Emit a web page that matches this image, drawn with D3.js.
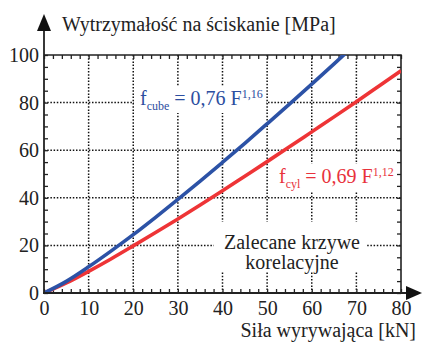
<!DOCTYPE html>
<html>
<head>
<meta charset="utf-8">
<script src="https://cdn.jsdelivr.net/npm/d3@7"></script>
<style>
	body { margin: 0; background: #fff; }
	svg { display: block; }
</style>
</head>
<body>
<svg id="chart" width="423" height="344"></svg>
<script>
// values
var forceKN = [0, 5, 10, 15, 20, 25, 30, 35, 40, 45, 50, 55, 60, 65, 70, 75, 80];
var cubeMPa = [0, 4.9, 11.0, 17.6, 24.5, 31.8, 39.3, 47.0, 54.9, 62.9, 71.1, 79.4, 87.8, 96.3, 104.9];
var cylMPa  = [0, 4.2, 9.1, 14.3, 19.8, 25.4, 31.1, 37.0, 43.0, 49.1, 55.2, 61.4, 67.7, 74.0, 80.4, 86.9, 93.4];
var xTicks = [0, 10, 20, 30, 40, 50, 60, 70, 80];
var yTicks = [0, 20, 40, 60, 80, 100];

(function () {
var svg = d3.select('#chart');
var pl = 44, pr = 401, pt = 55, pb = 293;
var serif = '"Liberation Serif", serif';

var x = d3.scaleLinear().domain([0, 80]).range([pl, pr]);
var y = d3.scaleLinear().domain([0, 100]).range([pb, pt]);

var ink = '#222';

// dotted grid
var grid = svg.append('g').attr('class', 'grid');
grid.selectAll('line.v').data(xTicks.slice(1, -1)).enter().append('line')
	.attr('x1', function (d) { return x(d); }).attr('x2', function (d) { return x(d); })
	.attr('y1', pt).attr('y2', pb);
grid.selectAll('line.h').data(yTicks.slice(1, -1)).enter().append('line')
	.attr('y1', function (d) { return y(d); }).attr('y2', function (d) { return y(d); })
	.attr('x1', pl).attr('x2', pr);
grid.selectAll('line').style('stroke', '#111').style('stroke-width', 1.5).style('stroke-dasharray', '1.5,1.7');

// white boxes behind the text labels
function box(x0, y0, w, h) {
	svg.append('rect').attr('x', x0).attr('y', y0).attr('width', w).attr('height', h).style('fill', '#fff');
}
box(134, 86, 132, 27);
box(274, 164, 124, 28);
box(214, 222, 152, 50);

// frame ticks (pointing inwards)
function ticks(axis, vals, size, tx) {
	svg.append('g').attr('transform', tx)
		.call(axis.tickValues(vals).tickSize(size).tickFormat(''))
		.call(function (g) { g.select('.domain').remove(); })
		.selectAll('line').style('stroke', ink).style('stroke-width', 1.3);
}
var minorX = d3.range(0, 81, 2), minorY = d3.range(0, 101, 5);
ticks(d3.axisTop(x), minorX, -4, 'translate(0,' + pt + ')');
ticks(d3.axisBottom(x), minorX, -4, 'translate(0,' + pb + ')');
ticks(d3.axisLeft(y), minorY, -4, 'translate(' + pl + ',0)');
ticks(d3.axisRight(y), minorY, -4, 'translate(' + pr + ',0)');

// frame
svg.append('path')
	.attr('d', 'M' + pl + ',' + pt + 'H' + pr + 'V' + pb)
	.style('fill', 'none').style('stroke', ink).style('stroke-width', 1.6);

// curves
svg.append('clipPath').attr('id', 'plotclip').append('rect')
	.attr('x', pl).attr('y', pt).attr('width', pr - pl).attr('height', pb - pt);

var line = d3.line()
	.x(function (d) { return x(d[0]); })
	.y(function (d) { return y(d[1]); })
	.curve(d3.curveMonotoneX);

var curves = svg.append('g').attr('clip-path', 'url(#plotclip)');
curves.append('path').datum(d3.zip(forceKN, cylMPa)).attr('d', line)
	.style('fill', 'none').style('stroke', '#ee3436').style('stroke-width', 3.6);
curves.append('path').datum(d3.zip(forceKN, cubeMPa)).attr('d', line)
	.style('fill', 'none').style('stroke', '#2c52a6').style('stroke-width', 3.6);

// main axes with arrows
svg.append('line').attr('x1', pl).attr('x2', pl).attr('y1', pb + 1).attr('y2', 28)
	.style('stroke', ink).style('stroke-width', 1.8);
svg.append('line').attr('x1', pl - 1).attr('x2', 410).attr('y1', pb).attr('y2', pb)
	.style('stroke', ink).style('stroke-width', 1.8);
svg.append('path').attr('d', 'M' + pl + ',14L' + (pl - 7) + ',31L' + (pl + 7) + ',31Z').style('fill', '#111');
svg.append('path').attr('d', 'M422,' + pb + 'L406,' + (pb - 7) + 'L406,' + (pb + 7) + 'Z').style('fill', '#111');

// tick labels
svg.append('g').attr('transform', 'translate(0,' + pb + ')')
	.call(d3.axisBottom(x).tickValues(xTicks).tickSize(0).tickPadding(8))
	.call(function (g) { g.select('.domain').remove(); })
	.attr('font-family', serif).attr('font-size', 20)
	.selectAll('text').style('font-size', '20px').style('fill', ink).style('font-family', serif);
svg.append('g').attr('transform', 'translate(' + pl + ',0)')
	.call(d3.axisLeft(y).tickValues(yTicks).tickSize(0).tickPadding(5))
	.call(function (g) { g.select('.domain').remove(); })
	.attr('font-family', serif).attr('font-size', 20)
	.selectAll('text').style('font-size', '20px').style('fill', ink).style('font-family', serif);

// axis titles
svg.append('text').attr('x', 62).attr('y', 31).style('font-family', serif).style('font-size', '20px').style('fill', ink)
	.text('Wytrzymałość na ściskanie [MPa]');
svg.append('text').attr('x', 416).attr('y', 337).attr('text-anchor', 'end').style('font-family', serif)
	.style('font-size', '20px').style('fill', ink)
	.text('Siła wyrywająca [kN]');

// formulas
function formula(x0, y0, color, sub, rest, sup) {
	var t = svg.append('text').attr('x', x0).attr('y', y0).style('font-family', serif)
		.style('font-size', '20px').style('fill', color);
	t.append('tspan').text('f');
	t.append('tspan').attr('dy', 5).style('font-size', '12px').text(sub);
	t.append('tspan').attr('dy', -5).text(' ' + rest);
	t.append('tspan').attr('dy', -7).style('font-size', '12px').text(sup);
}
formula(140, 105, '#2c4ea0', 'cube', '= 0,76 F', '1,16');
formula(279, 183, '#e8323c', 'cyl', '= 0,69 F', '1,12');

var note = svg.append('text').attr('text-anchor', 'middle').style('font-family', serif)
	.style('font-size', '20px').style('fill', ink);
note.append('tspan').attr('x', 292).attr('y', 249).text('Zalecane krzywe');
note.append('tspan').attr('x', 292).attr('y', 269).text('korelacyjne');
})();
</script>
</body>
</html>
